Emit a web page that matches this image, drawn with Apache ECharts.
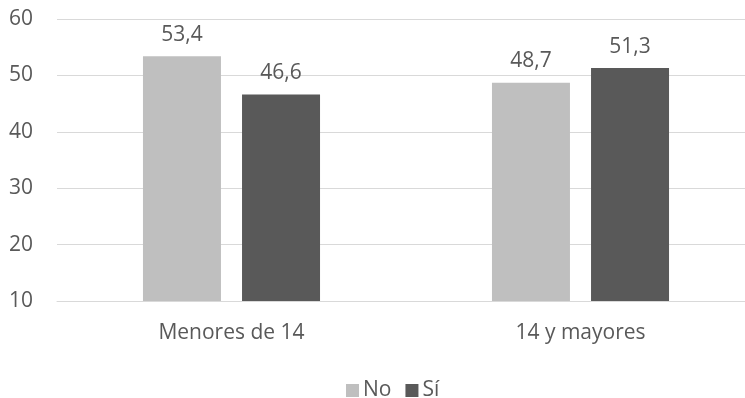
<!DOCTYPE html>
<html>
<head>
<meta charset="utf-8">
<script src="https://cdn.jsdelivr.net/npm/echarts@6/dist/echarts.min.js"></script>
<style>html,body{margin:0;padding:0;background:#fff;overflow:hidden;width:745px;height:398px}#c{width:755px;height:398px}</style>
</head>
<body>
<div id="c"></div>
<script>
var categories = ['Menores de 14', '14 y mayores'];
var seriesNames = ['No', 'Sí'];
var noValues = [53.4, 48.7];
var siValues = [46.6, 51.3];
var yMin = 10, yMax = 60, yStep = 10;

var font = 'Open Sans';
var txt = '#595959';
var fs = 21;
var chart = echarts.init(document.getElementById('c'));
function fmt(p){ return p.value.toFixed(1).replace('.', ','); }
chart.setOption({
  animation: false,
  textStyle: { fontFamily: font },
  grid: { left: 57, right: 0, top: 19, height: 282 },
  legend: {
    data: seriesNames, top: 375, left: 341,
    itemWidth: 13, itemHeight: 13, itemGap: 14, icon: 'rect',
    textStyle: { color: txt, fontSize: fs, fontFamily: font, padding: [0,0,0,-1] }
  },
  xAxis: {
    type: 'category', data: categories,
    axisLine: { show: true, lineStyle: { color: '#d9d9d9', width: 1 } },
    axisTick: { show: false },
    axisLabel: { color: txt, fontSize: fs, fontFamily: font, margin: 22 }
  },
  yAxis: {
    type: 'value', min: yMin, max: yMax, interval: yStep,
    axisLine: { show: false }, axisTick: { show: false },
    splitLine: { lineStyle: { color: '#d9d9d9', width: 1 } },
    axisLabel: { color: txt, fontSize: fs, fontFamily: font, margin: 24 }
  },
  series: [
    { name: seriesNames[0], type: 'bar', data: noValues, barWidth: 78, barGap: '27%',
      itemStyle: { color: '#bfbfbf' },
      label: { show: true, position: 'top', distance: 11, color: txt, fontSize: fs, fontFamily: font, formatter: fmt } },
    { name: seriesNames[1], type: 'bar', data: siValues, barWidth: 78,
      itemStyle: { color: '#595959' },
      label: { show: true, position: 'top', distance: 11, color: txt, fontSize: fs, fontFamily: font, formatter: fmt } }
  ]
});
</script>
</body>
</html>
